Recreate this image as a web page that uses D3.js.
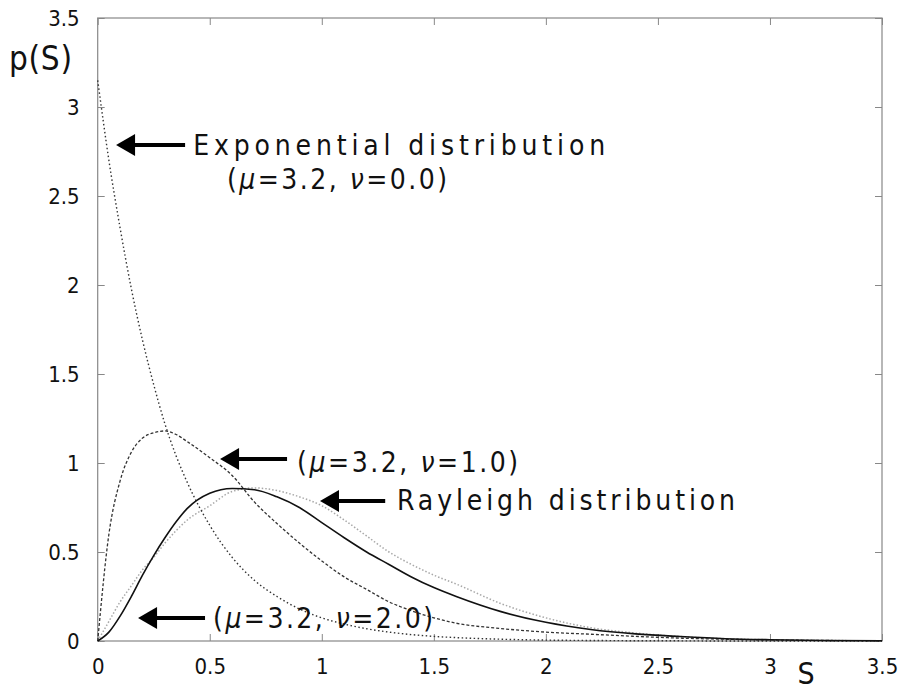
<!DOCTYPE html>
<html>
<head>
<meta charset="utf-8">
<script src="https://cdn.jsdelivr.net/npm/d3@7"></script>
<style>
  body { margin: 0; background: #fff; }
  svg { display: block; }
  text { font-family: "Liberation Sans Narrow", "DejaVu Sans Condensed", "Liberation Sans", sans-serif; fill: #111; }
</style>
</head>
<body>
<svg id="chart"></svg>
<script>
// S values (x) and the four curves
const sValues      = [0, 0.05, 0.1, 0.15, 0.2, 0.25, 0.3, 0.35, 0.4, 0.5, 0.6, 0.7, 0.8, 0.9, 1.0, 1.1, 1.2, 1.3, 1.4, 1.5, 1.6, 1.8, 2.0, 2.2, 2.4, 2.6, 2.8, 3.0, 3.25, 3.5];
const expValues    = [3.15, 2.7, 2.32, 1.98, 1.69, 1.44, 1.22, 1.04, 0.89, 0.65, 0.47, 0.34, 0.25, 0.18, 0.13, 0.095, 0.069, 0.05, 0.036, 0.026, 0.019, 0.01, 0.005, 0.003, 0.0015, 0.001, 0, 0, 0, 0];
const nu1Values    = [0, 0.6, 0.9, 1.06, 1.14, 1.17, 1.18, 1.16, 1.12, 1.03, 0.93, 0.78, 0.66, 0.55, 0.45, 0.36, 0.29, 0.22, 0.17, 0.13, 0.1, 0.07, 0.05, 0.038, 0.026, 0.016, 0.01, 0.006, 0.003, 0.001];
const rayleighVals = [0, 0.05, 0.14, 0.25, 0.37, 0.48, 0.58, 0.67, 0.745, 0.83, 0.857, 0.85, 0.81, 0.75, 0.665, 0.58, 0.5, 0.43, 0.36, 0.3, 0.25, 0.165, 0.105, 0.065, 0.04, 0.025, 0.013, 0.007, 0.003, 0.001];
const nu2Values    = [0, 0.11, 0.22, 0.31, 0.4, 0.47, 0.55, 0.62, 0.68, 0.76, 0.84, 0.86, 0.845, 0.81, 0.76, 0.68, 0.59, 0.5, 0.43, 0.37, 0.32, 0.21, 0.13, 0.075, 0.045, 0.025, 0.013, 0.007, 0.003, 0.001];

const xTicks = [0, 0.5, 1, 1.5, 2, 2.5, 3, 3.5];
const yTicks = [0, 0.5, 1, 1.5, 2, 2.5, 3, 3.5];

// annotation texts
const notes = [
  { lines: ["Exponential distribution", "(μ=3.2, ν=0.0)"], tip: [0.082, 2.787], tail: 0.39, text: [[0.426, 2.73, 412], [0.577, 2.538, 220]] },
  { lines: ["(μ=3.2, ν=1.0)"], tip: [0.546, 1.022], tail: 0.845, text: [[0.89, 0.949, 221]] },
  { lines: ["Rayleigh distribution"], tip: [0.992, 0.787], tail: 1.283, text: [[1.336, 0.736, 338]] },
  { lines: ["(μ=3.2, ν=2.0)"], tip: [0.18, 0.129], tail: 0.479, text: [[0.515, 0.073, 220]] }
];

const W = 902, H = 695;
const margin = { top: 18, right: 20, bottom: 54, left: 97.7 };
const w = W - margin.left - margin.right;
const h = H - margin.top - margin.bottom;

const svg = d3.select('#chart').attr('width', W).attr('height', H);
const g = svg.append('g').attr('transform', `translate(${margin.left},${margin.top})`);

const x = d3.scaleLinear().domain([0, 3.5]).range([0, w]);
const y = d3.scaleLinear().domain([0, 3.5]).range([h, 0]);

// frame with inward ticks on all four sides
const fmt = d => String(d);
const axisStyle = sel => {
  sel.select('.domain').remove();
  sel.selectAll('.tick line').attr('stroke', '#888').attr('stroke-width', 1);
  sel.selectAll('.tick text').attr('font-size', 22).attr('fill', '#111');
};
g.append('g').attr('transform', `translate(0,${h})`)
  .call(d3.axisBottom(x).tickValues(xTicks).tickFormat(fmt).tickSizeInner(-7).tickSizeOuter(0).tickPadding(17))
  .call(axisStyle);
g.append('g')
  .call(d3.axisLeft(y).tickValues(yTicks).tickFormat(fmt).tickSizeInner(-7).tickSizeOuter(0).tickPadding(18))
  .call(axisStyle);
g.append('g')
  .call(d3.axisTop(x).tickValues(xTicks).tickFormat('').tickSizeInner(-7).tickSizeOuter(0))
  .call(axisStyle);
g.append('g').attr('transform', `translate(${w},0)`)
  .call(d3.axisRight(y).tickValues(yTicks).tickFormat('').tickSizeInner(-7).tickSizeOuter(0))
  .call(axisStyle);

g.append('rect')
  .attr('x', 0).attr('y', 0).attr('width', w).attr('height', h)
  .attr('fill', 'none').attr('stroke', '#888').attr('stroke-width', 1.2);

// curves
const line = vals => d3.line()
  .x((d, i) => x(sValues[i]))
  .y(d => y(d))
  .curve(d3.curveMonotoneX)(vals);

const series = [
  { vals: nu2Values,    stroke: '#a8a8a8', width: 1.5, dash: '1.5 2' },
  { vals: expValues,    stroke: '#333',    width: 1.4, dash: '1.5 2.5' },
  { vals: nu1Values,    stroke: '#333',    width: 1.3, dash: '3 2' },
  { vals: rayleighVals, stroke: '#111',    width: 1.6, dash: null }
];
g.selectAll('.curve')
  .data(series)
  .join('path')
    .attr('class', 'curve')
    .attr('d', d => line(d.vals))
    .attr('fill', 'none')
    .attr('stroke', d => d.stroke)
    .attr('stroke-width', d => d.width)
    .attr('stroke-dasharray', d => d.dash);

// arrows and labels
notes.forEach(n => {
  const tx = x(n.tip[0]), ty = y(n.tip[1]), ex = x(n.tail);
  g.append('line')
    .attr('x1', tx + 14).attr('y1', ty).attr('x2', ex).attr('y2', ty)
    .attr('stroke', '#000').attr('stroke-width', 4);
  g.append('path')
    .attr('d', `M${tx},${ty} L${tx + 19},${ty - 11} L${tx + 19},${ty + 11} Z`)
    .attr('fill', '#000');
  n.lines.forEach((s, i) => {
    const [sx, sy, len] = n.text[i];
    const t = g.append('text')
      .attr('x', x(sx)).attr('y', y(sy))
      .attr('font-size', 28)
      .attr('textLength', len)
      .attr('lengthAdjust', 'spacing');
    // italic greek letters
    s.split(/([μν])/).forEach(part => {
      if (!part) return;
      t.append('tspan')
        .attr('font-style', /[μν]/.test(part) ? 'italic' : null)
        .text(part);
    });
  });
});

// axis titles
svg.append('text')
  .attr('x', 9).attr('y', 70)
  .attr('font-size', 33)
  .attr('textLength', 63)
  .attr('lengthAdjust', 'spacing')
  .text('p(S)');
svg.append('text')
  .attr('x', 806).attr('y', 684)
  .attr('text-anchor', 'middle')
  .attr('font-size', 30)
  .text('S');
</script>
</body>
</html>
